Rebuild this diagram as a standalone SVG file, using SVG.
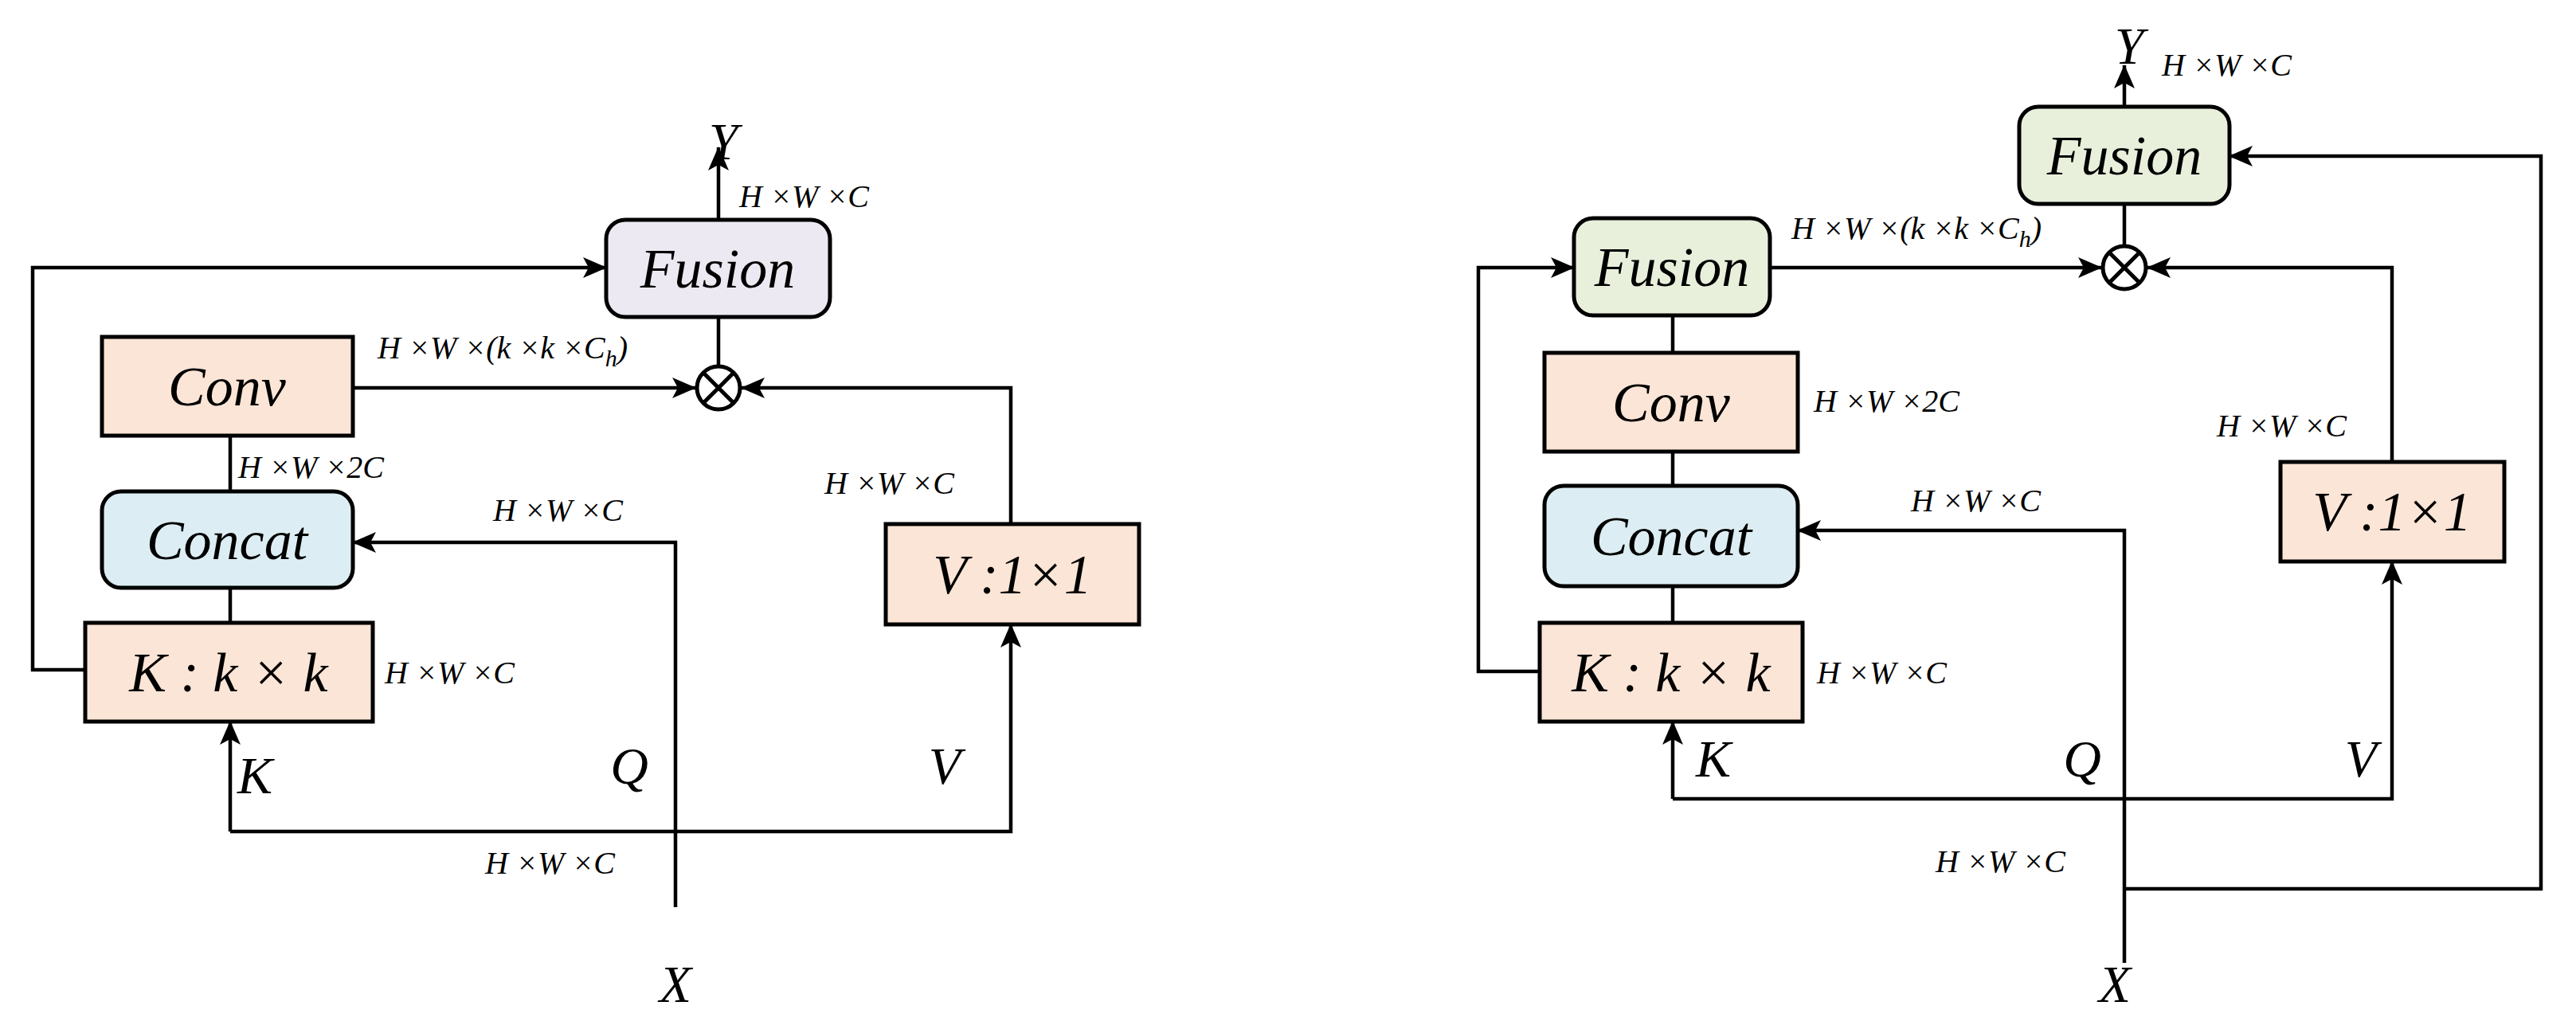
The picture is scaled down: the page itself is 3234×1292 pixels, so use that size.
<svg xmlns="http://www.w3.org/2000/svg" width="3234" height="1292" viewBox="0 0 3234 1292">
<style>
.b{stroke:#000;stroke-width:5}
.pe{fill:#FBE5D6}.bl{fill:#DCEEF3}.la{fill:#ECE9F2}.gr{fill:#E8F0DC}
.t{font-family:"Liberation Serif",serif;font-style:italic;font-size:70px;text-anchor:middle;dominant-baseline:central}
.s{font-family:"Liberation Serif",serif;font-style:italic;font-size:40px}
.L{font-family:"Liberation Serif",serif;font-style:italic;font-size:66px;text-anchor:middle}
.c line,.c polyline{stroke:#000;stroke-width:4.5;fill:none}
.ar{marker-end:url(#a)}
</style>
<defs>
<marker id="a" markerUnits="userSpaceOnUse" markerWidth="30" markerHeight="26" refX="29" refY="13" orient="auto"><path d="M0,0 L30,13 L0,26 L7,13 Z" fill="#000"/></marker>
</defs>
<rect width="3234" height="1292" fill="#fff"/>
<g id="connectors" class="c">
<line x1="902" y1="276" x2="902" y2="185" class="ar"/>
<polyline points="107,841 41,841 41,336 761,336" class="ar"/>
<line x1="443" y1="487" x2="873" y2="487" class="ar"/>
<polyline points="1269,658 1269,487 931,487" class="ar"/>
<line x1="902" y1="398" x2="902" y2="458"/>
<line x1="289" y1="547" x2="289" y2="617"/>
<line x1="289" y1="738" x2="289" y2="782"/>
<polyline points="848,1139 848,681 443,681" class="ar"/>
<polyline points="289,1044 289,906" class="ar"/>
<polyline points="289,1044 1269,1044 1269,784" class="ar"/>
<line x1="2667" y1="134" x2="2667" y2="82" class="ar"/>
<line x1="2667" y1="256" x2="2667" y2="307"/>
<polyline points="1933,843 1856,843 1856,336 1976,336" class="ar"/>
<line x1="2222" y1="336" x2="2638" y2="336" class="ar"/>
<polyline points="3003,580 3003,336 2696,336" class="ar"/>
<line x1="2100" y1="396" x2="2100" y2="443"/>
<line x1="2100" y1="567" x2="2100" y2="610"/>
<line x1="2100" y1="736" x2="2100" y2="782"/>
<polyline points="2667,1209 2667,666 2257,666" class="ar"/>
<polyline points="2100,1003 2100,906" class="ar"/>
<polyline points="2100,1003 3003,1003 3003,705" class="ar"/>
<polyline points="2667,1116 3190,1116 3190,196 2799,196" class="ar"/>
</g>
<g id="fusion1"><rect x="761" y="276" width="281" height="122" rx="24" class="b la"/><text x="901" y="337" class="t">Fusion</text></g>
<g id="conv1"><rect x="128" y="423" width="315" height="124" class="b pe"/><text x="285" y="485" class="t">Conv</text></g>
<g id="concat1"><rect x="128" y="617" width="315" height="121" rx="24" class="b bl"/><text x="285" y="678" class="t">Concat</text></g>
<g id="k1"><rect x="107" y="782" width="361" height="124" class="b pe"/><text x="287" y="844" class="t">K : k × k</text></g>
<g id="v1"><rect x="1112" y="658" width="318" height="126" class="b pe"/><text x="1271" y="721" class="t">V :1×1</text></g>
<g id="mul1"><circle cx="902" cy="487" r="27" fill="#fff" class="b"/><path d="M883,468 L921,506 M921,468 L883,506" stroke="#000" stroke-width="5"/></g>
<g id="fusion2"><rect x="2535" y="134" width="264" height="122" rx="24" class="b gr"/><text x="2667" y="195" class="t">Fusion</text></g>
<g id="fusion2b"><rect x="1976" y="274" width="246" height="122" rx="24" class="b gr"/><text x="2099" y="335" class="t">Fusion</text></g>
<g id="conv2"><rect x="1939" y="443" width="318" height="124" class="b pe"/><text x="2098" y="505" class="t">Conv</text></g>
<g id="concat2"><rect x="1939" y="610" width="318" height="126" rx="24" class="b bl"/><text x="2098" y="673" class="t">Concat</text></g>
<g id="k2"><rect x="1933" y="782" width="330" height="124" class="b pe"/><text x="2098" y="844" class="t">K : k × k</text></g>
<g id="v2"><rect x="2863" y="580" width="281" height="125" class="b pe"/><text x="3003" y="642" class="t">V :1×1</text></g>
<g id="mul2"><circle cx="2667" cy="336" r="27" fill="#fff" class="b"/><path d="M2648,317 L2686,355 M2686,317 L2648,355" stroke="#000" stroke-width="5"/></g>
<g id="labels">
<text x="908" y="200" class="L">Y</text>
<text x="928" y="260" class="s">H ×W ×C</text>
<text x="474" y="450" class="s">H ×W ×(k ×k ×C<tspan dy="10" font-size="30">h</tspan><tspan dy="-10">)</tspan></text>
<text x="299" y="600" class="s">H ×W ×2C</text>
<text x="619" y="654" class="s">H ×W ×C</text>
<text x="483" y="858" class="s">H ×W ×C</text>
<text x="1035" y="620" class="s">H ×W ×C</text>
<text x="609" y="1097" class="s">H ×W ×C</text>
<text x="320" y="996" class="L">K</text>
<text x="790" y="984" class="L">Q</text>
<text x="1186" y="984" class="L">V</text>
<text x="848" y="1258" class="L">X</text>
<text x="2673" y="80" class="L">Y</text>
<text x="2714" y="95" class="s">H ×W ×C</text>
<text x="2249" y="300" class="s">H ×W ×(k ×k ×C<tspan dy="10" font-size="30">h</tspan><tspan dy="-10">)</tspan></text>
<text x="2277" y="517" class="s">H ×W ×2C</text>
<text x="2399" y="642" class="s">H ×W ×C</text>
<text x="2281" y="858" class="s">H ×W ×C</text>
<text x="2783" y="548" class="s">H ×W ×C</text>
<text x="2430" y="1095" class="s">H ×W ×C</text>
<text x="2151" y="975" class="L">K</text>
<text x="2614" y="975" class="L">Q</text>
<text x="2964" y="975" class="L">V</text>
<text x="2655" y="1258" class="L">X</text>
</g>
</svg>
